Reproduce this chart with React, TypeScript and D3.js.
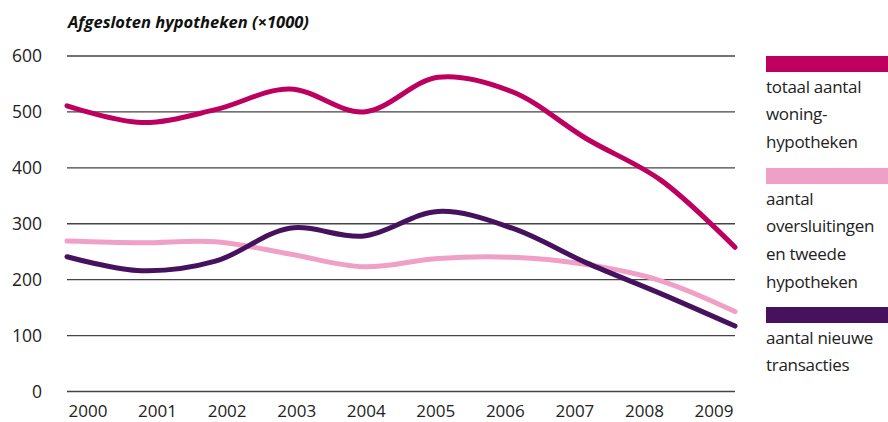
import React from "react";
import * as d3 from "d3";

const years = [2000, 2001, 2002, 2003, 2004, 2005, 2006, 2007, 2008, 2009];
const totaal = [511, 481, 504, 541, 500, 562, 536, 452, 378, 258];
const oversluitingen = [269, 266, 268, 246, 223, 238, 240, 227, 198, 143];
const nieuwe = [241, 216, 233, 292, 278, 322, 292, 230, 175, 117];
const yTicks = [0, 100, 200, 300, 400, 500, 600];
const title = "Afgesloten hypotheken (×1000)";
const seriesNames = [
  ["totaal aantal", "woning-", "hypotheken"],
  ["aantal", "oversluitingen", "en tweede", "hypotheken"],
  ["aantal nieuwe", "transacties"],
];
const colors = ["#BD005F", "#F0A0C6", "#46125E"];

export default function App() {
  const W = 888, H = 422;
  const left = 67, right = 735;
  const x = d3.scaleLinear().domain([2000, 2009]).range([left, right]);
  const y = d3.scaleLinear().domain([0, 600]).range([391.5, 56]);
  const font = "'Open Sans', sans-serif";
  const line = d3
    .line<number>()
    .x((_, i) => x(years[i]))
    .y((d) => y(d))
    .curve(d3.curveCatmullRom.alpha(0.5));
  const series = [totaal, oversluitingen, nieuwe];
  const legendTops = [56, 168, 307];
  return (
    <svg width={W} height={H} style={{ position: "absolute", left: 0, top: 0 }}>
      <rect width={W} height={H} fill="#fff" />
      <text x={68} y={28} fontFamily={font} fontSize={16.5} fontWeight="bold" fontStyle="italic" fill="#111">
        {title}
      </text>
      {yTicks.map((t) => (
        <g key={t}>
          <line x1={left} x2={right} y1={y(t)} y2={y(t)} stroke="#444" strokeWidth={1.3} />
          <text x={42} y={y(t) + 6.2} textAnchor="end" fontFamily={font} fontSize={17.5} fill="#222">
            {t}
          </text>
        </g>
      ))}
      {years.map((yr, i) => (
        <text
          key={yr}
          x={x(yr) + 21 - (42 * i) / 9}
          y={417}
          textAnchor="middle"
          fontFamily={font}
          fontSize={17}
          fill="#222"
        >
          {yr}
        </text>
      ))}
      {series.map((s, i) => (
        <path
          key={i}
          d={line(s) || ""}
          fill="none"
          stroke={colors[i]}
          strokeWidth={5}
          strokeLinecap="round"
        />
      ))}
      {seriesNames.map((lines, i) => (
        <g key={i}>
          <rect x={766} y={legendTops[i]} width={122} height={16} fill={colors[i]} />
          {lines.map((l, j) => (
            <text
              key={j}
              x={766}
              y={legendTops[i] + 36.5 + j * 27.8}
              fontFamily={font}
              fontSize={17}
              letterSpacing={-0.3}
              fill="#222"
            >
              {l}
            </text>
          ))}
        </g>
      ))}
    </svg>
  );
}
